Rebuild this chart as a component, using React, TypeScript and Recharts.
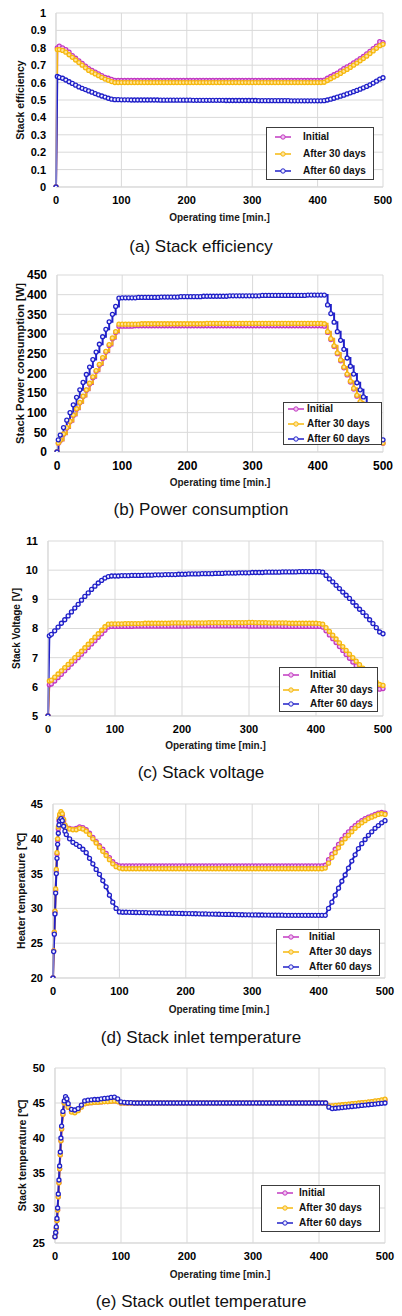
import { LineChart, Line, XAxis, YAxis, CartesianGrid, Legend } from 'recharts';

// time axis (min.) – main charts sampled every 5 min, temperature charts denser at start-up
const TIME_MAIN = [
  0, 2, 5, 10, 15, 20, 25, 30, 35, 40, 45,
  50, 55, 60, 65, 70, 75, 80, 85, 90, 95,
  100, 105, 110, 115, 120, 125, 130, 135, 140, 145,
  150, 155, 160, 165, 170, 175, 180, 185, 190, 195,
  200, 205, 210, 215, 220, 225, 230, 235, 240, 245,
  250, 255, 260, 265, 270, 275, 280, 285, 290, 295,
  300, 305, 310, 315, 320, 325, 330, 335, 340, 345,
  350, 355, 360, 365, 370, 375, 380, 385, 390, 395,
  400, 405,
  410, 415, 420, 425, 430, 435, 440, 445, 450, 455,
  460, 465, 470, 475, 480, 485, 490, 495, 500,
];

const TIME_HEAT = [
  0, 1, 2, 3, 4, 5, 6, 7, 8, 9, 10,
  12, 14, 16, 18, 20,
  25, 30, 35, 40, 45, 50, 55, 60, 65, 70, 75, 80, 85, 90, 95, 100,
  105, 110, 115, 120, 125, 130, 135, 140, 145, 150,
  155, 160, 165, 170, 175, 180, 185, 190, 195, 200,
  205, 210, 215, 220, 225, 230, 235, 240, 245, 250,
  255, 260, 265, 270, 275, 280, 285, 290, 295, 300,
  305, 310, 315, 320, 325, 330, 335, 340, 345, 350,
  355, 360, 365, 370, 375, 380, 385, 390, 395, 400,
  405,
  410, 415, 420, 425, 430, 435, 440, 445, 450, 455,
  460, 465, 470, 475, 480, 485, 490, 495, 500,
];

const X_TICKS = [0, 100, 200, 300, 400, 500];
const EFF_TICKS = [0, 0.1, 0.2, 0.3, 0.4, 0.5, 0.6, 0.7, 0.8, 0.9, 1];
const POW_TICKS = [0, 50, 100, 150, 200, 250, 300, 350, 400, 450];
const VOLT_TICKS = [5, 6, 7, 8, 9, 10, 11];
const HEAT_TICKS = [20, 25, 30, 35, 40, 45];
const OUT_TICKS = [25, 30, 35, 40, 45, 50];

const SERIES_NAMES = ['Initial', 'After 30 days', 'After 60 days'];
const SERIES_KEYS = ['initial', 'd30', 'd60'];
const SERIES_COLORS = ['#c23ac2', '#f6b80e', '#2020c8'];
const SERIES_FILLS = ['#f0c4f0', '#ffe39a', '#eeeeff'];

// (a) stack efficiency
const EFF_INITIAL = [
  0, 0.8, 0.81, 0.8, 0.79, 0.775, 0.755, 0.74, 0.725, 0.71, 0.695,
  0.68, 0.67, 0.66, 0.65, 0.64, 0.63, 0.625, 0.618, 0.612, 0.612,
  0.612, 0.612, 0.612, 0.612, 0.612, 0.612, 0.612, 0.612, 0.612, 0.612,
  0.612, 0.612, 0.612, 0.612, 0.612, 0.612, 0.612, 0.612, 0.612, 0.612,
  0.612, 0.612, 0.612, 0.612, 0.612, 0.612, 0.612, 0.612, 0.612, 0.612,
  0.612, 0.612, 0.612, 0.612, 0.612, 0.612, 0.612, 0.612, 0.612, 0.612,
  0.612, 0.612, 0.612, 0.612, 0.612, 0.612, 0.612, 0.612, 0.612, 0.612,
  0.612, 0.612, 0.612, 0.612, 0.612, 0.612, 0.612, 0.612, 0.612, 0.612,
  0.612, 0.612,
  0.614, 0.625, 0.635, 0.645, 0.655, 0.667, 0.68, 0.69, 0.7, 0.713,
  0.725, 0.738, 0.75, 0.765, 0.78, 0.795, 0.81, 0.835, 0.83,
];
const EFF_30D = [
  0, 0.79, 0.79, 0.785, 0.775, 0.76, 0.745, 0.73, 0.715, 0.7, 0.685,
  0.67, 0.66, 0.65, 0.64, 0.63, 0.62, 0.613, 0.606, 0.6, 0.6,
  0.6, 0.6, 0.6, 0.6, 0.6, 0.6, 0.6, 0.6, 0.6, 0.6,
  0.6, 0.6, 0.6, 0.6, 0.6, 0.6, 0.6, 0.6, 0.6, 0.6,
  0.6, 0.6, 0.6, 0.6, 0.6, 0.6, 0.6, 0.6, 0.6, 0.6,
  0.6, 0.6, 0.6, 0.6, 0.6, 0.6, 0.6, 0.6, 0.6, 0.6,
  0.6, 0.6, 0.6, 0.6, 0.6, 0.6, 0.6, 0.6, 0.6, 0.6,
  0.6, 0.6, 0.6, 0.6, 0.6, 0.6, 0.6, 0.6, 0.6, 0.6,
  0.6, 0.6,
  0.602, 0.612, 0.622, 0.632, 0.642, 0.653, 0.665, 0.676, 0.687, 0.7,
  0.712, 0.725, 0.738, 0.752, 0.767, 0.782, 0.797, 0.812, 0.82,
];
const EFF_60D = [
  0, 0.635, 0.63, 0.625, 0.615, 0.605, 0.595, 0.585, 0.575, 0.567, 0.56,
  0.552, 0.545, 0.537, 0.53, 0.523, 0.517, 0.51, 0.505, 0.502, 0.502,
  0.501, 0.501, 0.501, 0.5, 0.5, 0.5, 0.5, 0.5, 0.5, 0.5,
  0.5, 0.5, 0.499, 0.499, 0.499, 0.499, 0.499, 0.499, 0.499, 0.499,
  0.499, 0.499, 0.498, 0.498, 0.498, 0.498, 0.498, 0.498, 0.498, 0.498,
  0.498, 0.498, 0.497, 0.497, 0.497, 0.497, 0.497, 0.497, 0.497, 0.497,
  0.497, 0.497, 0.496, 0.496, 0.496, 0.496, 0.496, 0.496, 0.496, 0.496,
  0.496, 0.496, 0.495, 0.495, 0.495, 0.495, 0.495, 0.495, 0.495, 0.495,
  0.495, 0.495,
  0.496, 0.5, 0.505, 0.51, 0.516, 0.522, 0.528, 0.535, 0.541, 0.548,
  0.555, 0.562, 0.57, 0.578, 0.587, 0.597, 0.608, 0.62, 0.628,
];

// (b) power consumption [W]
const POW_INITIAL = [
  0, 22, 29, 45, 61, 77, 93, 109, 125, 141, 157,
  173, 189, 205, 221, 238, 254, 271, 288, 304, 320,
  320, 320, 320, 320, 321, 321, 321, 321, 321, 321,
  321, 321, 321, 321, 321, 321, 321, 321, 321, 321,
  321, 321, 321, 321, 321, 321, 321, 321, 321, 321,
  321, 321, 321, 321, 321, 321, 321, 321, 321, 321,
  321, 321, 321, 321, 321, 321, 321, 321, 321, 321,
  321, 321, 321, 321, 321, 321, 321, 321, 321, 321,
  321, 321,
  320, 304, 286, 268, 250, 232, 214, 196, 178, 160,
  142, 126, 110, 94, 78, 62, 46, 28, 22,
];
const POW_30D = [
  0, 23, 30, 46, 62, 78, 94, 110, 126, 142, 158,
  175, 191, 207, 223, 240, 256, 273, 290, 306, 325,
  325, 325, 325, 325, 325, 325, 326, 326, 326, 326,
  326, 326, 326, 326, 326, 326, 326, 326, 326, 326,
  326, 326, 326, 326, 326, 326, 327, 327, 327, 327,
  327, 327, 327, 327, 327, 327, 327, 327, 327, 327,
  327, 327, 327, 327, 327, 327, 327, 327, 327, 327,
  327, 327, 327, 327, 327, 327, 327, 327, 327, 327,
  327, 327,
  326, 306, 288, 270, 252, 234, 216, 198, 180, 162,
  144, 128, 112, 96, 80, 64, 48, 30, 23,
];
const POW_60D = [
  0, 31, 43, 62, 81, 100, 120, 139, 158, 177, 197,
  216, 235, 254, 274, 293, 312, 331, 350, 370, 391,
  392, 392, 392, 392, 392, 393, 393, 393, 393, 393,
  393, 393, 394, 394, 394, 394, 394, 394, 395, 395,
  395, 395, 395, 395, 395, 396, 396, 396, 396, 396,
  396, 396, 396, 397, 397, 397, 397, 397, 397, 397,
  397, 397, 397, 398, 398, 398, 398, 398, 398, 398,
  398, 398, 398, 398, 398, 398, 398, 399, 399, 399,
  399, 399,
  399, 374, 352, 330, 306, 284, 261, 239, 218, 198,
  176, 158, 140, 118, 97, 76, 55, 33, 31,
];

// (c) stack voltage [V]
const VOLT_INITIAL = [
  5, 6.07, 6.1, 6.2, 6.32, 6.43, 6.55, 6.66, 6.78, 6.89, 7.0,
  7.12, 7.23, 7.35, 7.47, 7.58, 7.7, 7.82, 7.94, 8.05, 8.07,
  8.07, 8.07, 8.07, 8.07, 8.07, 8.07, 8.08, 8.08, 8.08, 8.08,
  8.08, 8.08, 8.08, 8.08, 8.08, 8.08, 8.08, 8.08, 8.08, 8.08,
  8.08, 8.08, 8.08, 8.09, 8.09, 8.09, 8.09, 8.09, 8.09, 8.09,
  8.09, 8.09, 8.09, 8.09, 8.09, 8.09, 8.09, 8.09, 8.09, 8.09,
  8.08, 8.08, 8.08, 8.08, 8.08, 8.08, 8.08, 8.08, 8.08, 8.08,
  8.07, 8.07, 8.07, 8.07, 8.07, 8.07, 8.07, 8.07, 8.07, 8.07,
  8.07, 8.07,
  8.05, 7.92, 7.78, 7.65, 7.52, 7.38, 7.25, 7.11, 6.98, 6.85,
  6.72, 6.6, 6.48, 6.36, 6.24, 6.12, 6.0, 5.92, 5.94,
];
const VOLT_30D = [
  5, 6.2, 6.23, 6.33, 6.44, 6.55, 6.66, 6.77, 6.88, 7.0, 7.11,
  7.22, 7.34, 7.46, 7.58, 7.7, 7.82, 7.94, 8.06, 8.15, 8.16,
  8.16, 8.16, 8.16, 8.17, 8.17, 8.17, 8.17, 8.17, 8.17, 8.18,
  8.18, 8.18, 8.18, 8.18, 8.18, 8.18, 8.18, 8.19, 8.19, 8.19,
  8.19, 8.19, 8.19, 8.19, 8.19, 8.19, 8.19, 8.19, 8.2, 8.2,
  8.2, 8.2, 8.2, 8.2, 8.2, 8.2, 8.2, 8.2, 8.2, 8.2,
  8.21, 8.21, 8.2, 8.2, 8.2, 8.2, 8.19, 8.19, 8.19, 8.19,
  8.19, 8.19, 8.18, 8.18, 8.18, 8.18, 8.18, 8.18, 8.18, 8.18,
  8.18, 8.17,
  8.15, 8.03, 7.9, 7.77, 7.64, 7.51, 7.38, 7.25, 7.12, 7.0,
  6.88, 6.76, 6.64, 6.52, 6.4, 6.28, 6.17, 6.08, 6.05,
];
const VOLT_60D = [
  5, 7.75, 7.8, 7.92, 8.05, 8.18, 8.3, 8.43, 8.57, 8.7, 8.83,
  8.97, 9.1, 9.22, 9.34, 9.45, 9.56, 9.65, 9.73, 9.78, 9.8,
  9.8, 9.8, 9.81, 9.81, 9.81, 9.82, 9.82, 9.82, 9.82, 9.83,
  9.83, 9.83, 9.84, 9.84, 9.84, 9.85, 9.85, 9.85, 9.85, 9.86,
  9.86, 9.86, 9.87, 9.87, 9.87, 9.87, 9.88, 9.88, 9.88, 9.88,
  9.89, 9.89, 9.89, 9.9, 9.9, 9.9, 9.9, 9.91, 9.91, 9.91,
  9.91, 9.92, 9.92, 9.92, 9.92, 9.93, 9.93, 9.93, 9.93, 9.93,
  9.94, 9.94, 9.94, 9.94, 9.94, 9.95, 9.95, 9.95, 9.95, 9.95,
  9.95, 9.95,
  9.93, 9.82, 9.7, 9.6, 9.48, 9.37, 9.25, 9.14, 9.03, 8.9,
  8.78, 8.66, 8.55, 8.43, 8.3, 8.17, 8.03, 7.88, 7.82,
];

// (d) heater / stack inlet temperature [°C]
const HEAT_INITIAL = [
  20, 23.9, 26.5, 29.5, 32.6, 35.4, 37.8, 39.8, 41.4, 42.6, 43.2,
  43.6, 43.4, 42.6, 41.9, 41.6,
  41.5, 41.4, 41.5, 41.7, 41.6, 41.3, 40.8, 40.2, 39.6, 39.0, 38.5, 37.9, 37.3, 36.7, 36.3, 36.1,
  36.1, 36.1, 36.1, 36.1, 36.1, 36.1, 36.1, 36.1, 36.1, 36.1,
  36.1, 36.1, 36.1, 36.1, 36.1, 36.1, 36.1, 36.1, 36.1, 36.1,
  36.1, 36.1, 36.1, 36.1, 36.1, 36.1, 36.1, 36.1, 36.1, 36.1,
  36.1, 36.1, 36.1, 36.1, 36.1, 36.1, 36.1, 36.1, 36.1, 36.1,
  36.1, 36.1, 36.1, 36.1, 36.1, 36.1, 36.1, 36.1, 36.1, 36.1,
  36.1, 36.1, 36.1, 36.1, 36.1, 36.1, 36.1, 36.1, 36.1, 36.1,
  36.1,
  36.2, 37.0, 37.8, 38.5, 39.2, 39.9, 40.5, 41.0, 41.5, 41.9,
  42.3, 42.6, 42.9, 43.1, 43.3, 43.5, 43.7, 43.8, 43.7,
];
const HEAT_30D = [
  20, 23.9, 26.6, 29.6, 32.8, 35.6, 38.0, 40.0, 41.7, 42.9, 43.5,
  43.9, 43.6, 42.8, 42.0, 41.6,
  41.4, 41.3, 41.3, 41.5, 41.4, 41.1, 40.6, 40.0, 39.4, 38.8, 38.2, 37.6, 37.0, 36.4, 36.0, 35.8,
  35.7, 35.7, 35.7, 35.7, 35.7, 35.7, 35.7, 35.7, 35.7, 35.7,
  35.7, 35.7, 35.7, 35.7, 35.7, 35.7, 35.7, 35.7, 35.7, 35.7,
  35.7, 35.7, 35.7, 35.7, 35.7, 35.7, 35.7, 35.7, 35.7, 35.7,
  35.7, 35.7, 35.7, 35.7, 35.7, 35.7, 35.7, 35.7, 35.7, 35.7,
  35.7, 35.7, 35.7, 35.7, 35.7, 35.7, 35.7, 35.7, 35.7, 35.7,
  35.7, 35.7, 35.7, 35.7, 35.7, 35.7, 35.7, 35.7, 35.7, 35.7,
  35.7,
  35.8, 36.5, 37.3, 38.0, 38.7, 39.4, 40.0, 40.5, 41.0, 41.5,
  41.9, 42.3, 42.6, 42.9, 43.1, 43.3, 43.5, 43.6, 43.5,
];
const HEAT_60D = [
  20, 23.8, 26.3, 29.2, 32.2, 35.0, 37.2, 39.2, 40.8, 42.0, 42.6,
  42.9, 42.6, 41.8, 41.1, 40.6,
  40.0, 39.5, 39.2, 38.9, 38.5, 38.0, 37.2, 36.4, 35.6, 34.9, 34.0, 33.1, 31.9, 30.9, 30.0, 29.5,
  29.45, 29.45, 29.43, 29.42, 29.41, 29.4, 29.4, 29.38, 29.37, 29.36,
  29.35, 29.34, 29.33, 29.32, 29.31, 29.3, 29.29, 29.28, 29.27, 29.26,
  29.25, 29.24, 29.23, 29.22, 29.21, 29.2, 29.19, 29.18, 29.17, 29.16,
  29.15, 29.14, 29.13, 29.12, 29.11, 29.1, 29.09, 29.08, 29.07, 29.06,
  29.06, 29.05, 29.05, 29.04, 29.04, 29.03, 29.03, 29.02, 29.02, 29.01,
  29.01, 29.01, 29.0, 29.0, 29.0, 29.0, 29.0, 29.0, 29.0, 29.0,
  29.0,
  29.0, 30.0, 30.9, 31.9, 32.9, 33.9, 34.8, 35.8, 36.8, 37.7,
  38.6, 39.3, 39.9, 40.5, 41.0, 41.5, 41.9, 42.3, 42.6,
];

// (e) stack outlet temperature [°C]
const OUT_INITIAL = [
  25.9, 26.4, 27.1, 28.2, 29.7, 31.6, 33.6, 35.6, 37.6, 39.6, 41.3,
  43.4, 45.0, 45.6, 45.2, 44.4,
  43.8, 43.7, 44.0, 44.5, 44.9, 45.0, 45.05, 45.1, 45.1, 45.15, 45.2, 45.2, 45.25, 45.3, 45.2, 45.0,
  45.0, 45.0, 45.0, 45.0, 45.0, 45.0, 45.0, 45.0, 45.0, 45.0,
  45.0, 45.0, 45.0, 45.0, 45.0, 45.0, 45.0, 45.0, 45.0, 45.0,
  45.0, 45.0, 45.0, 45.0, 45.0, 45.0, 45.0, 45.0, 45.0, 45.0,
  45.0, 45.0, 45.0, 45.0, 45.0, 45.0, 45.0, 45.0, 45.0, 45.0,
  45.0, 45.0, 45.0, 45.0, 45.0, 45.0, 45.0, 45.0, 45.0, 45.0,
  45.0, 45.0, 45.0, 45.0, 45.0, 45.0, 45.0, 45.0, 45.0, 45.0,
  45.0,
  45.0, 44.6, 44.55, 44.6, 44.65, 44.7, 44.75, 44.8, 44.85, 44.9,
  44.95, 45.0, 45.05, 45.1, 45.15, 45.2, 45.25, 45.3, 45.4,
];
const OUT_30D = [
  25.9, 26.4, 27.1, 28.2, 29.7, 31.6, 33.6, 35.6, 37.6, 39.6, 41.3,
  43.4, 45.0, 45.6, 45.2, 44.4,
  43.7, 43.6, 43.9, 44.4, 44.9, 45.0, 45.05, 45.1, 45.1, 45.15, 45.2, 45.2, 45.25, 45.3, 45.2, 45.0,
  45.0, 45.0, 45.0, 45.0, 45.0, 45.0, 45.0, 45.0, 45.0, 45.0,
  45.0, 45.0, 45.0, 45.0, 45.0, 45.0, 45.0, 45.0, 45.0, 45.0,
  45.0, 45.0, 45.0, 45.0, 45.0, 45.0, 45.0, 45.0, 45.0, 45.0,
  45.0, 45.0, 45.0, 45.0, 45.0, 45.0, 45.0, 45.0, 45.0, 45.0,
  45.0, 45.0, 45.0, 45.0, 45.0, 45.0, 45.0, 45.0, 45.0, 45.0,
  45.0, 45.0, 45.0, 45.0, 45.0, 45.0, 45.0, 45.0, 45.0, 45.0,
  45.0,
  45.0, 44.6, 44.6, 44.65, 44.7, 44.75, 44.8, 44.85, 44.9, 44.95,
  45.0, 45.05, 45.1, 45.15, 45.2, 45.3, 45.35, 45.45, 45.55,
];
const OUT_60D = [
  25.9, 26.5, 27.3, 28.5, 30.0, 32.0, 34.0, 36.0, 38.0, 40.0, 41.7,
  43.8, 45.3, 45.9, 45.6, 44.9,
  44.1, 44.0, 44.2, 44.7, 45.3, 45.4, 45.45, 45.5, 45.5, 45.6, 45.65, 45.7, 45.8, 45.85, 45.6, 45.15,
  45.1, 45.05, 45.05, 45.0, 45.0, 45.0, 45.0, 45.0, 45.0, 45.0,
  45.0, 45.0, 45.0, 45.0, 45.0, 45.0, 45.0, 45.0, 45.0, 45.0,
  45.0, 45.0, 45.0, 45.0, 45.0, 45.0, 45.0, 45.0, 45.0, 45.0,
  45.0, 45.0, 45.0, 45.0, 45.0, 45.0, 45.0, 45.0, 45.0, 45.0,
  45.0, 45.0, 45.0, 45.0, 45.0, 45.0, 45.0, 45.0, 45.0, 45.0,
  45.0, 45.0, 45.0, 45.0, 45.0, 45.0, 45.0, 45.0, 45.0, 45.0,
  45.0,
  45.0, 44.4, 44.2, 44.25, 44.3, 44.35, 44.4, 44.45, 44.5, 44.55,
  44.6, 44.65, 44.7, 44.75, 44.8, 44.85, 44.9, 44.95, 45.0,
];

type Row = { t: number; initial?: number; d30?: number; d60?: number };

const buildRows = (time: number[], a: number[], b: number[], c: number[]): Row[] =>
  time.map((t, i) => ({ t, initial: a[i], d30: b[i], d60: c[i] }));

const FONT = '"Liberation Sans", Arial, sans-serif';

interface LegendBox {
  left: number;
  top: number;
  width: number;
  height: number;
  rowTop: number;
  rowGap: number;
  lineLeft: number;
  lineWidth: number;
  textLeft: number;
}

function LegendBoxContent({ box }: { box: LegendBox }) {
  return (
    <div
      style={{
        width: box.width,
        height: box.height,
        boxSizing: 'border-box',
        border: '1px solid #3c3c3c',
        background: '#fff',
        position: 'relative',
        fontFamily: FONT,
      }}
    >
      {SERIES_NAMES.map((name, i) => (
        <div key={name} style={{ position: 'absolute', left: 0, top: box.rowTop + i * box.rowGap - 8, height: 14, width: '100%' }}>
          <svg width={box.lineLeft + box.lineWidth + 4} height={14} style={{ position: 'absolute', left: 0, top: 0 }}>
            <line x1={box.lineLeft} x2={box.lineLeft + box.lineWidth} y1={7} y2={7} stroke={SERIES_COLORS[i]} strokeWidth={1.5} />
            <circle cx={box.lineLeft + box.lineWidth / 2} cy={7} r={2.2} fill={SERIES_FILLS[i]} stroke={SERIES_COLORS[i]} strokeWidth={1} />
          </svg>
          <span
            style={{
              position: 'absolute',
              left: box.textLeft,
              top: 0,
              lineHeight: '14px',
              fontSize: 10,
              fontWeight: 700,
              whiteSpace: 'nowrap',
              color: '#111',
            }}
          >
            {name}
          </span>
        </div>
      ))}
    </div>
  );
}

interface PanelProps {
  top: number;
  height: number;
  rows: Row[];
  yDomain: [number, number];
  yTicks: number[];
  yAxisWidth: number;
  rightMargin: number;
  xAxisHeight: number;
  yLabel: string;
  yLabelX: number;
  yLabelSize: number;
  tickSize: number;
  xLabelOffset: number;
  legend: LegendBox;
  caption: string;
  captionY: number;
  stepped?: boolean;
}

function Panel(p: PanelProps) {
  return (
    <>
      <div style={{ position: 'absolute', left: 0, top: p.top, width: 402, height: p.height }}>
        <LineChart width={402} height={p.height} data={p.rows} margin={{ top: 13, right: p.rightMargin, left: 0, bottom: 0 }}>
          <CartesianGrid stroke="#d9d9d9" strokeWidth={1} />
          <XAxis
            dataKey="t"
            type="number"
            domain={[0, 500]}
            ticks={X_TICKS}
            interval={0}
            height={p.xAxisHeight}
            tickLine={false}
            tickMargin={3}
            axisLine={{ stroke: '#d9d9d9' }}
            tick={{ fontSize: p.tickSize, fontWeight: 700, fill: '#000' }}
            label={{
              value: 'Operating time [min.]',
              position: 'insideBottom',
              offset: p.xLabelOffset,
              style: { fontSize: 10, fontWeight: 700, fill: '#1a1a1a' },
            }}
          />
          <YAxis
            type="number"
            domain={p.yDomain}
            ticks={p.yTicks}
            interval={0}
            width={p.yAxisWidth}
            tickLine={false}
            tickMargin={4}
            axisLine={{ stroke: '#d9d9d9' }}
            allowDataOverflow
            tick={{ fontSize: p.tickSize, fontWeight: 700, fill: '#000' }}
            label={{
              value: p.yLabel,
              angle: -90,
              position: 'insideLeft',
              offset: p.yLabelX,
              style: { textAnchor: 'middle', fontSize: p.yLabelSize, fontWeight: 700, fill: '#111' },
            }}
          />
          {SERIES_KEYS.map((key, i) => (
            <Line
              key={key}
              dataKey={key}
              name={SERIES_NAMES[i]}
              type={p.stepped ? 'stepAfter' : 'linear'}
              stroke={SERIES_COLORS[i]}
              strokeWidth={2}
              dot={{ r: 2, stroke: SERIES_COLORS[i], strokeWidth: 1.3, fill: SERIES_FILLS[i] }}
              activeDot={false}
              isAnimationActive={false}
            />
          ))}
          <Legend
            layout="vertical"
            align="center"
            verticalAlign="middle"
            content={() => <LegendBoxContent box={p.legend} />}
            wrapperStyle={{ left: p.legend.left, top: p.legend.top - p.top, width: p.legend.width, height: p.legend.height }}
          />
        </LineChart>
      </div>
      <div
        style={{
          position: 'absolute',
          left: 0,
          top: p.captionY - 10,
          width: 402,
          height: 20,
          lineHeight: '20px',
          textAlign: 'center',
          fontSize: 17,
          color: '#111',
        }}
      >
        {p.caption}
      </div>
    </>
  );
}

export default function App() {
  return (
    <div
      style={{
        position: 'absolute',
        left: 0,
        top: 0,
        width: 402,
        height: 1316,
        background: '#fff',
        fontFamily: FONT,
        overflow: 'hidden',
      }}
    >
      <Panel
        top={0}
        height={228}
        rows={buildRows(TIME_MAIN, EFF_INITIAL, EFF_30D, EFF_60D)}
        yDomain={[0, 1]}
        yTicks={EFF_TICKS}
        yAxisWidth={56}
        rightMargin={19}
        xAxisHeight={41}
        yLabel="Stack efficiency"
        yLabelX={20}
        yLabelSize={10.5}
        tickSize={11}
        xLabelOffset={7.5}
        legend={{ left: 266, top: 127, width: 108, height: 53, rowTop: 10, rowGap: 17, lineLeft: 8, lineWidth: 16, textLeft: 36 }}
        caption="(a) Stack efficiency"
        captionY={247}
      />
      <Panel
        top={262}
        height={228}
        rows={buildRows(TIME_MAIN, POW_INITIAL, POW_30D, POW_60D)}
        yDomain={[0, 450]}
        yTicks={POW_TICKS}
        yAxisWidth={57}
        rightMargin={19}
        xAxisHeight={38}
        yLabel="Stack Power consumption  [W]"
        yLabelX={20}
        yLabelSize={11.2}
        tickSize={12}
        xLabelOffset={4.5}
        legend={{ left: 283, top: 402, width: 99, height: 43, rowTop: 7, rowGap: 15, lineLeft: 4, lineWidth: 16, textLeft: 23 }}
        caption="(b) Power consumption"
        captionY={510}
        stepped
      />
      <Panel
        top={528}
        height={226}
        rows={buildRows(TIME_MAIN, VOLT_INITIAL, VOLT_30D, VOLT_60D)}
        yDomain={[5, 11]}
        yTicks={VOLT_TICKS}
        yAxisWidth={48}
        rightMargin={19}
        xAxisHeight={38}
        yLabel="Stack Voltage [V]"
        yLabelX={16}
        yLabelSize={10}
        tickSize={11}
        xLabelOffset={5.5}
        legend={{ left: 279, top: 667, width: 99, height: 45, rowTop: 8, rowGap: 14.5, lineLeft: 3, lineWidth: 16, textLeft: 30 }}
        caption="(c) Stack voltage"
        captionY={773}
      />
      <Panel
        top={791}
        height={226}
        rows={buildRows(TIME_HEAT, HEAT_INITIAL, HEAT_30D, HEAT_60D)}
        yDomain={[20, 45]}
        yTicks={HEAT_TICKS}
        yAxisWidth={53}
        rightMargin={17}
        xAxisHeight={39}
        yLabel="Heater temperature [℃]"
        yLabelX={21}
        yLabelSize={10.5}
        tickSize={11}
        xLabelOffset={4.5}
        legend={{ left: 276, top: 929, width: 104, height: 47, rowTop: 8, rowGap: 15, lineLeft: 6, lineWidth: 16, textLeft: 32 }}
        caption="(d) Stack inlet temperature"
        captionY={1038}
      />
      <Panel
        top={1055}
        height={228}
        rows={buildRows(TIME_HEAT, OUT_INITIAL, OUT_30D, OUT_60D)}
        yDomain={[25, 50]}
        yTicks={OUT_TICKS}
        yAxisWidth={55}
        rightMargin={17}
        xAxisHeight={40}
        yLabel="Stack temperature [℃]"
        yLabelX={22}
        yLabelSize={10.5}
        tickSize={11}
        xLabelOffset={5.5}
        legend={{ left: 261, top: 1185, width: 119, height: 47, rowTop: 8, rowGap: 15, lineLeft: 15, lineWidth: 16, textLeft: 37 }}
        caption="(e) Stack outlet temperature"
        captionY={1302}
      />
    </div>
  );
}
